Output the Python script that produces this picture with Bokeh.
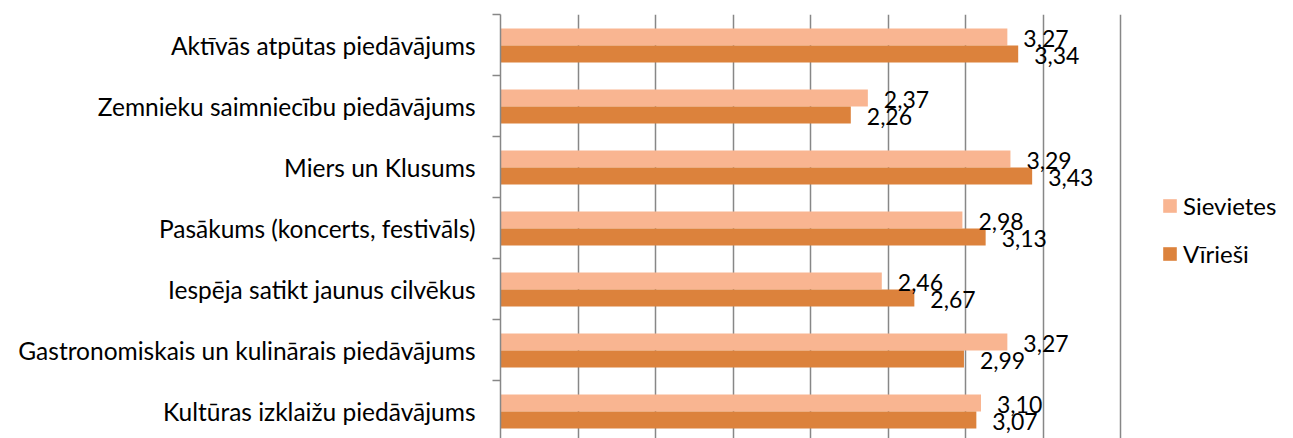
from bokeh.plotting import figure
from bokeh.models import Range1d, FixedTicker, Grid, Legend, LegendItem, ColumnDataSource
from bokeh.embed import file_html
from bokeh.resources import INLINE
from bokeh.core.properties import value

categories = [
    "Aktīvās atpūtas piedāvājums",
    "Zemnieku saimniecību piedāvājums",
    "Miers un Klusums",
    "Pasākums (koncerts, festivāls)",
    "Iespēja satikt jaunus cilvēkus",
    "Gastronomiskais un kulinārais piedāvājums",
    "Kultūras izklaižu piedāvājums",
]
sievietes = [3.27, 2.37, 3.29, 2.98, 2.46, 3.27, 3.10]
virriesi = [3.34, 2.26, 3.43, 3.13, 2.67, 2.99, 3.07]
series_names = ["Sievietes", "Vīrieši"]
x_ticks = [0, 0.5, 1, 1.5, 2, 2.5, 3, 3.5, 4]

LIGHT = "#F9B591"
DARK = "#DC823C"
GRAY = "#878787"
FONT = "Lato"

W, H = 1293, 438
LEFT, TOP = 500, 14
axis_px = 620.0          # pixels from 0 to 4 on the value axis
x_max = x_ticks[-1]

n = len(categories)
centers = [n - 0.5 - i for i in range(n)]
band_px = 61.0
frame_h = H - TOP
bar_h = 17 / band_px
off_light = 8 / band_px
off_dark = 9 / band_px

def fmt(v):
    return f"{v:.2f}".replace(".", ",")

src_l = ColumnDataSource(dict(y=[c + off_light for c in centers], x=sievietes,
                              lab=[fmt(v) for v in sievietes]))
src_d = ColumnDataSource(dict(y=[c - off_dark for c in centers], x=virriesi,
                              lab=[fmt(v) for v in virriesi]))

p = figure(width=W, height=H, output_backend="svg", toolbar_location=None,
           x_range=Range1d(0, x_max * (W - LEFT) / axis_px),
           y_range=Range1d(n - frame_h / band_px, n),
           x_axis_location=None, min_border_left=LEFT, min_border_right=0,
           min_border_top=TOP, min_border_bottom=0)
p.outline_line_color = None
p.background_fill_color = "white"
for g in p.grid:
    g.visible = False

grid = Grid(dimension=0, ticker=FixedTicker(ticks=x_ticks),
            grid_line_color=GRAY, grid_line_width=1.5)
p.add_layout(grid)

r_l = p.hbar(y="y", right="x", left=0, height=bar_h, source=src_l,
             fill_color=LIGHT, line_color=None)
r_d = p.hbar(y="y", right="x", left=0, height=bar_h, source=src_d,
             fill_color=DARK, line_color=None)

for src in (src_l, src_d):
    p.text(x="x", y="y", text="lab", source=src, x_offset=16, y_offset=1,
           text_align="left", text_baseline="middle", text_color="black",
           text_font=value(FONT), text_font_size="23px")

ax = p.yaxis[0]
ax.ticker = FixedTicker(ticks=centers, minor_ticks=[float(k) for k in range(n + 1)])
ax.major_label_overrides = {c: lab for c, lab in zip(centers, categories)}
ax.major_tick_out = 0
ax.major_tick_in = 0
ax.minor_tick_out = 8
ax.minor_tick_in = 0
ax.minor_tick_line_color = GRAY
ax.minor_tick_line_width = 1.5
ax.axis_line_color = GRAY
ax.axis_line_width = 1.5
ax.major_label_standoff = 17
ax.major_label_text_font = FONT
ax.major_label_text_font_size = "24.5px"
ax.major_label_text_color = "black"

legend = Legend(items=[LegendItem(label=series_names[0], renderers=[r_l]),
                       LegendItem(label=series_names[1], renderers=[r_d])],
                location=(661, 170), padding=0, spacing=19, margin=0,
                glyph_width=17, glyph_height=17, label_height=20,
                label_standoff=5, border_line_color=None,
                background_fill_alpha=0,
                label_text_font=FONT, label_text_font_size="24px",
                label_text_color="black",
                label_text_baseline="middle")
p.add_layout(legend, "center")

open("out.html", "w").write(file_html(p, INLINE))
